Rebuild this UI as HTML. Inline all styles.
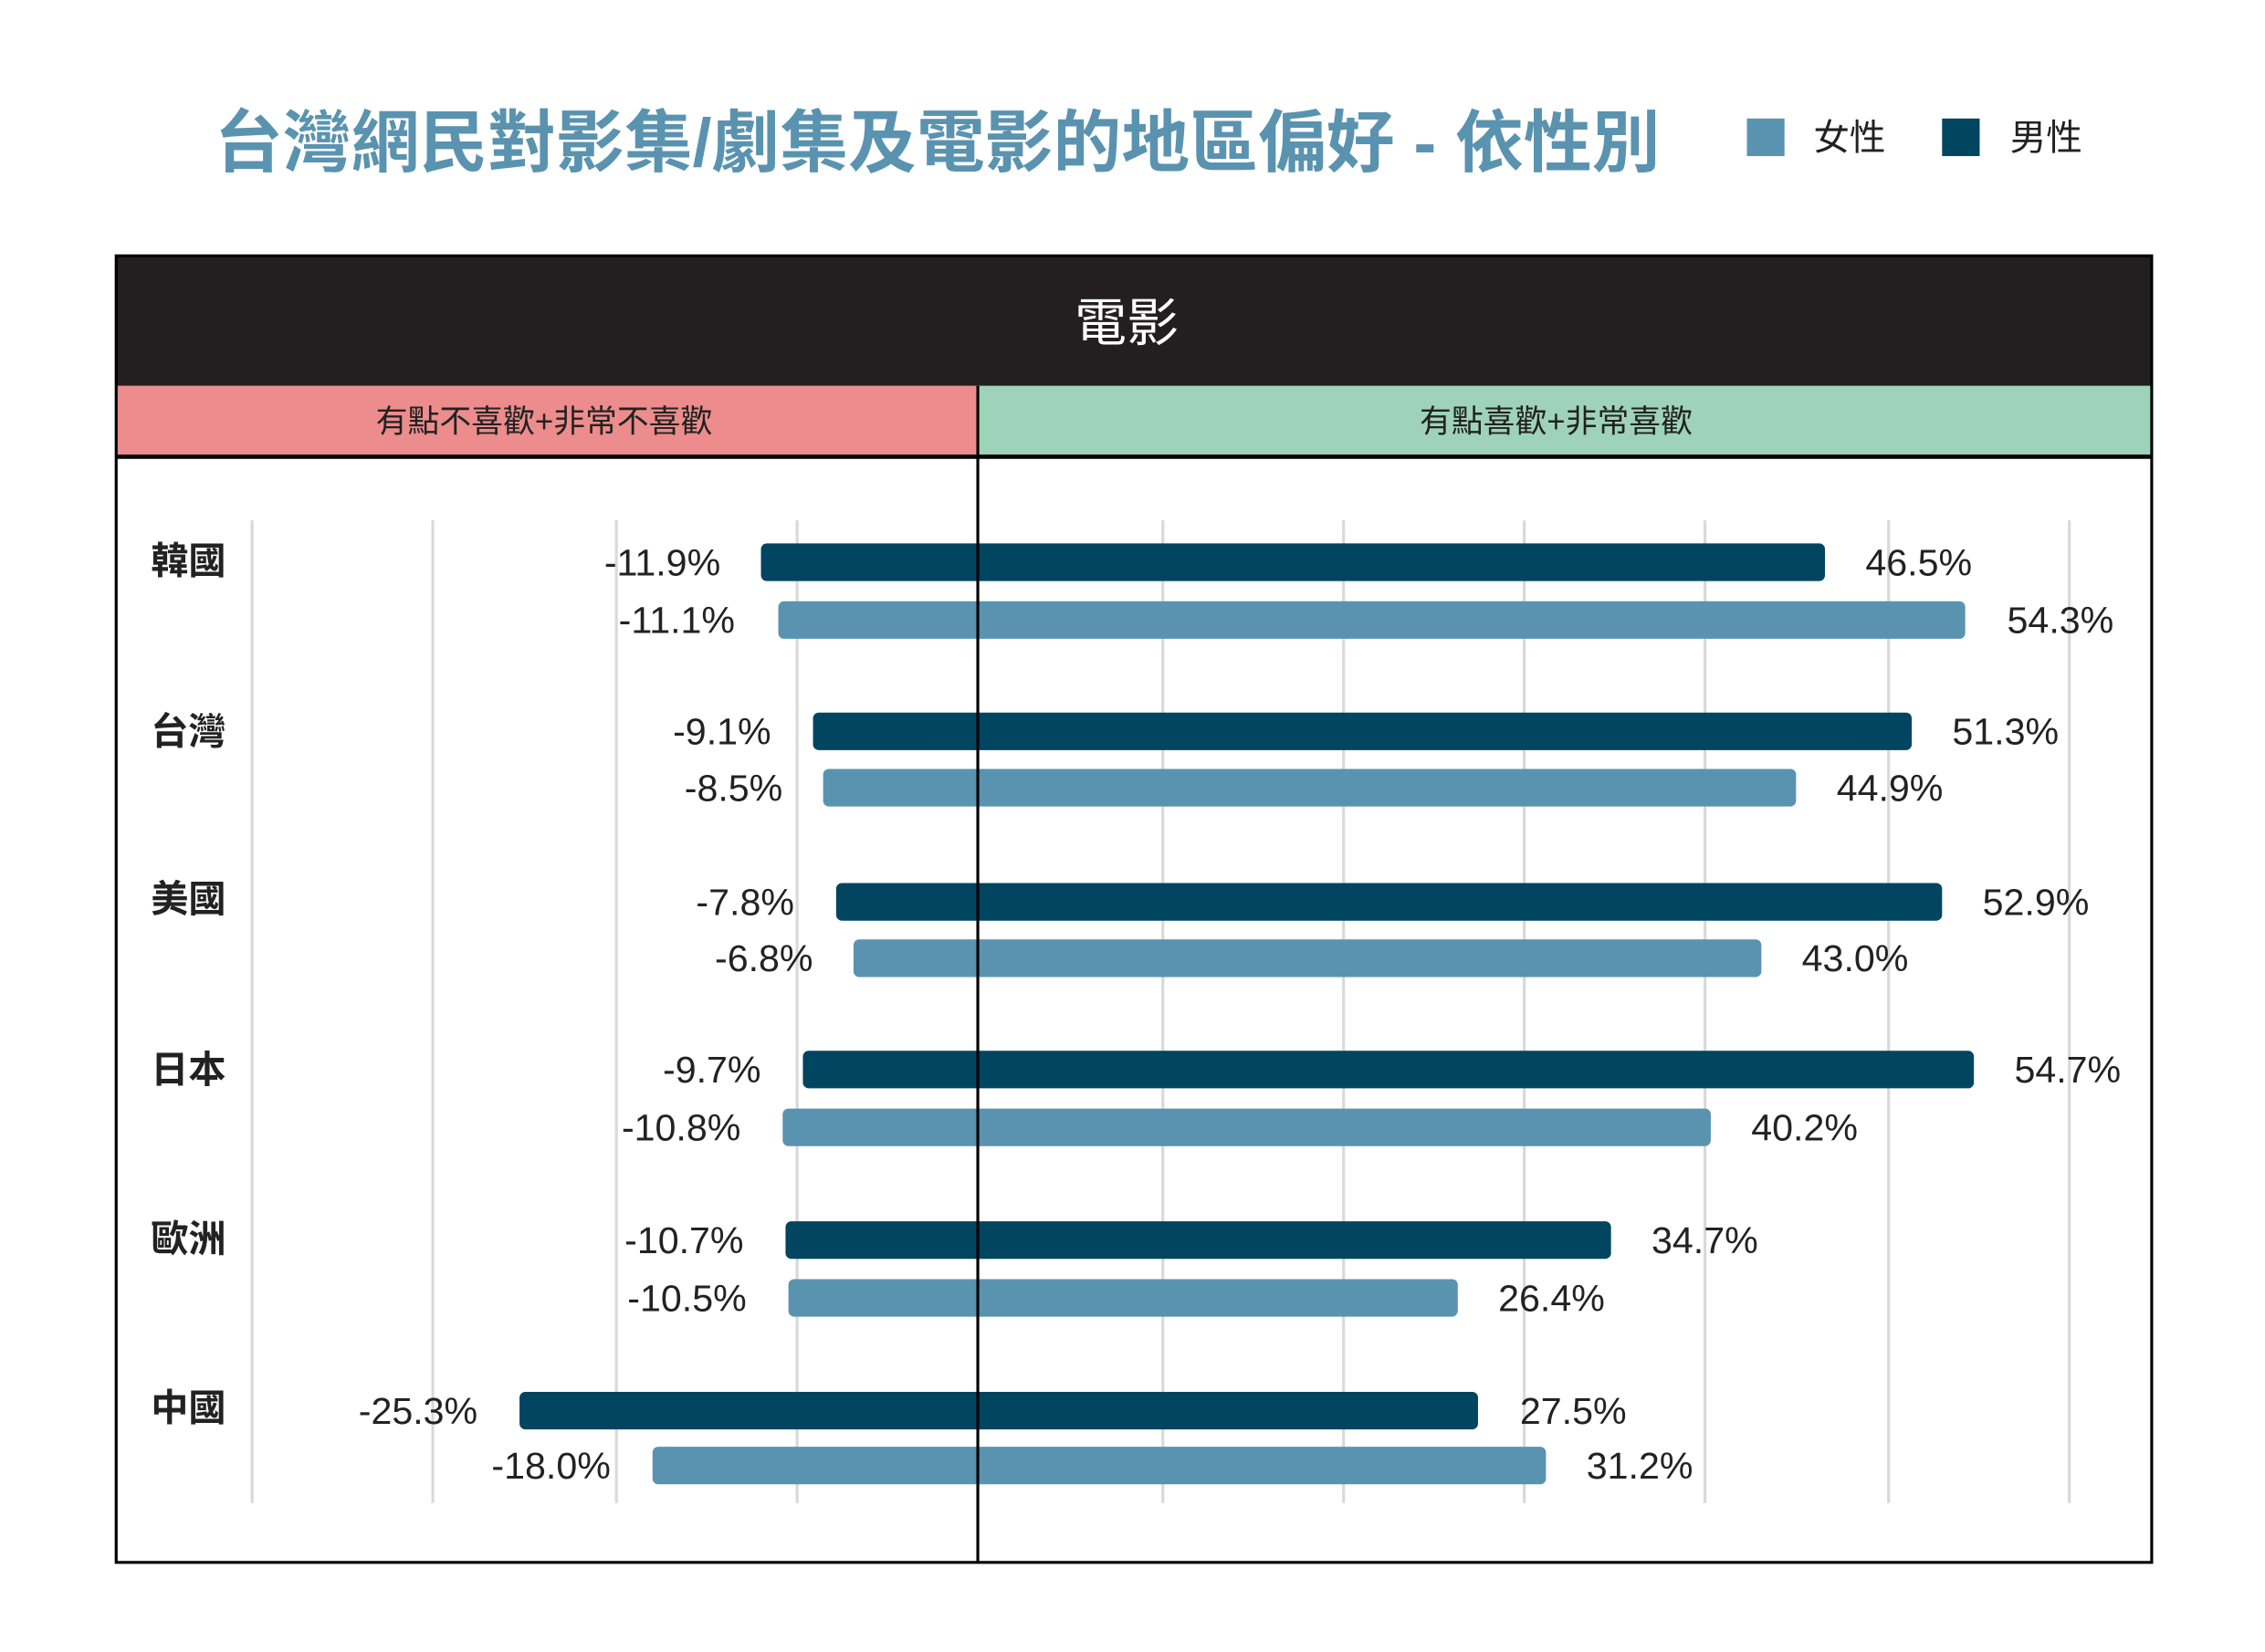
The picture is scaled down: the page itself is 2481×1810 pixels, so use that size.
<!DOCTYPE html>
<html><head><meta charset="utf-8"><style>
html,body{margin:0;padding:0;background:#fff}
svg{display:block}
text{font-family:"Liberation Sans","Noto Sans CJK TC",sans-serif}
</style></head><body>
<svg width="2481" height="1810" viewBox="0 0 1566 1143" xmlns="http://www.w3.org/2000/svg">
<rect width="1566" height="1143" fill="#fff"/>
<text x="148" y="115" font-size="47" font-weight="bold" fill="#5a93b0" textLength="1000" lengthAdjust="spacingAndGlyphs">台灣網民對影集/劇集及電影的地區偏好 - 依性別</text>
<rect x="1208" y="82" width="26" height="26" fill="#5a93b0"/>
<text x="1254" y="104" font-size="25" fill="#222">女性</text>
<rect x="1343" y="82" width="26" height="26" fill="#024561"/>
<text x="1390" y="104" font-size="25" fill="#222">男性</text>

<rect x="80" y="177" width="1408" height="90" fill="#231f20"/>
<text x="779" y="236" font-size="36" fill="#fff" text-anchor="middle">電影</text>
<rect x="80" y="267" width="596" height="49" fill="#ec8c8c"/>
<rect x="676" y="267" width="812" height="49" fill="#9fd3b9"/>
<text x="376" y="299" font-size="22" fill="#222" text-anchor="middle">有點不喜歡+非常不喜歡</text>
<text x="1076" y="299" font-size="22" fill="#222" text-anchor="middle">有點喜歡+非常喜歡</text>
<line x1="80" y1="316" x2="1488" y2="316" stroke="#000" stroke-width="3"/>

<g stroke="#d9d9d9" stroke-width="2">
<line x1="174" y1="360" x2="174" y2="1040"/><line x1="299" y1="360" x2="299" y2="1040"/>
<line x1="426" y1="360" x2="426" y2="1040"/><line x1="551" y1="360" x2="551" y2="1040"/>
<line x1="804" y1="360" x2="804" y2="1040"/><line x1="929" y1="360" x2="929" y2="1040"/>
<line x1="1054" y1="360" x2="1054" y2="1040"/><line x1="1179" y1="360" x2="1179" y2="1040"/>
<line x1="1306" y1="360" x2="1306" y2="1040"/><line x1="1431" y1="360" x2="1431" y2="1040"/>
</g>

<g font-size="26" fill="#222">
<rect x="526" y="376" width="736" height="26" rx="4" fill="#024561"/>
<rect x="538" y="416" width="821" height="26" rx="4" fill="#5a93b0"/>
<text x="498" y="398" text-anchor="end">-11.9%</text><text x="1290" y="398">46.5%</text>
<text x="508" y="438" text-anchor="end">-11.1%</text><text x="1388" y="438">54.3%</text>
<text x="104" y="397" font-weight="bold">韓國</text>
<rect x="562" y="493" width="760" height="26" rx="4" fill="#024561"/>
<rect x="569" y="532" width="673" height="26" rx="4" fill="#5a93b0"/>
<text x="533" y="515" text-anchor="end">-9.1%</text><text x="1350" y="515">51.3%</text>
<text x="541" y="554" text-anchor="end">-8.5%</text><text x="1270" y="554">44.9%</text>
<text x="104" y="515" font-weight="bold">台灣</text>
<rect x="578" y="611" width="765" height="26" rx="4" fill="#024561"/>
<rect x="590" y="650" width="628" height="26" rx="4" fill="#5a93b0"/>
<text x="549" y="633" text-anchor="end">-7.8%</text><text x="1371" y="633">52.9%</text>
<text x="562" y="672" text-anchor="end">-6.8%</text><text x="1246" y="672">43.0%</text>
<text x="104" y="631" font-weight="bold">美國</text>
<rect x="555" y="727" width="810" height="26" rx="4" fill="#024561"/>
<rect x="541" y="767" width="642" height="26" rx="4" fill="#5a93b0"/>
<text x="526" y="749" text-anchor="end">-9.7%</text><text x="1393" y="749">54.7%</text>
<text x="512" y="789" text-anchor="end">-10.8%</text><text x="1211" y="789">40.2%</text>
<text x="104" y="749" font-weight="bold">日本</text>
<rect x="543" y="845" width="571" height="26" rx="4" fill="#024561"/>
<rect x="545" y="885" width="463" height="26" rx="4" fill="#5a93b0"/>
<text x="514" y="867" text-anchor="end">-10.7%</text><text x="1142" y="867">34.7%</text>
<text x="516" y="907" text-anchor="end">-10.5%</text><text x="1036" y="907">26.4%</text>
<text x="104" y="866" font-weight="bold">歐洲</text>
<rect x="359" y="963" width="663" height="26" rx="4" fill="#024561"/>
<rect x="451" y="1001" width="618" height="26" rx="4" fill="#5a93b0"/>
<text x="330" y="985" text-anchor="end">-25.3%</text><text x="1051" y="985">27.5%</text>
<text x="422" y="1023" text-anchor="end">-18.0%</text><text x="1097" y="1023">31.2%</text>
<text x="104" y="983" font-weight="bold">中國</text>
</g>

<line x1="676" y1="267" x2="676" y2="1081" stroke="#000" stroke-width="2"/>
<rect x="80" y="177" width="1408" height="904" fill="none" stroke="#000" stroke-width="2"/>
</svg>
</body></html>
